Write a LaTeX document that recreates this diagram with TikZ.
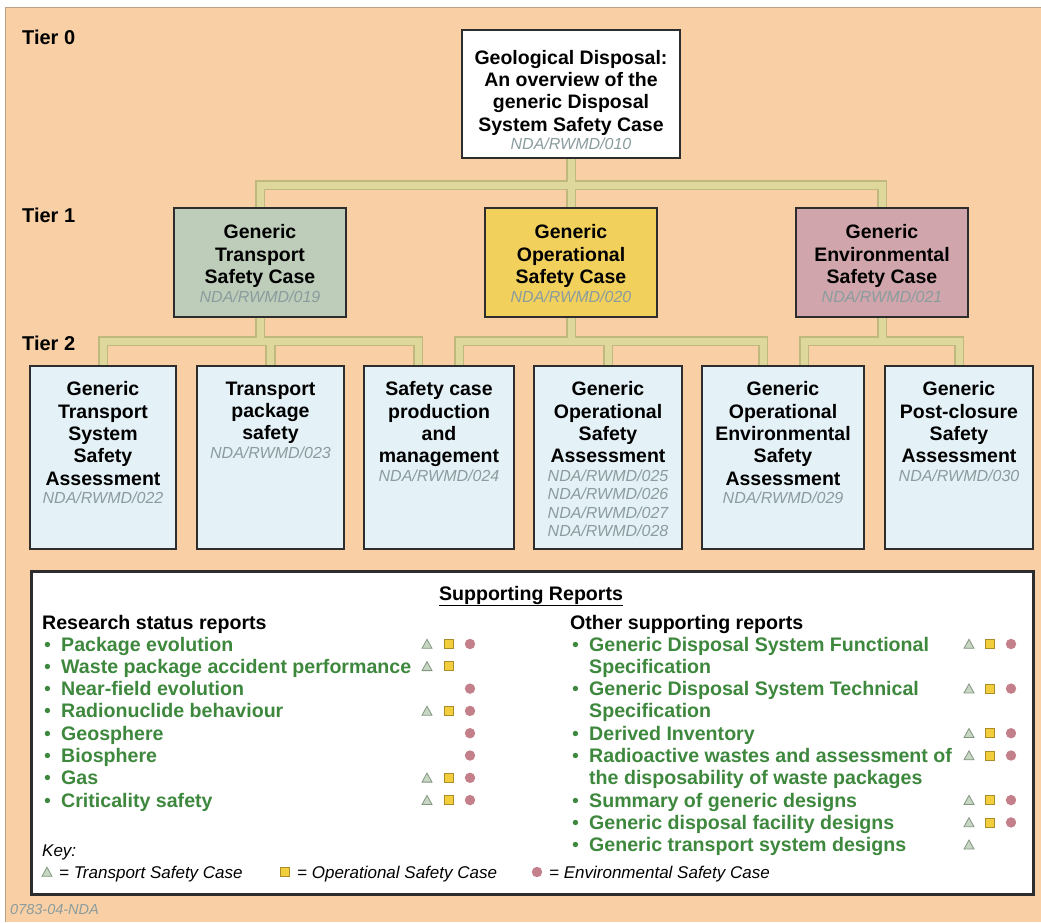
\documentclass[tikz,border=0pt]{standalone}
\usepackage{fontspec}
\setmainfont{Liberation Sans}
\usetikzlibrary{backgrounds}
\setlength\parskip{0pt}
\setlength\parindent{0pt}

\definecolor{page}{RGB}{249,208,166}
\definecolor{pageedge}{RGB}{190,160,130}
\definecolor{busfill}{RGB}{222,216,156}
\definecolor{busedge}{RGB}{192,184,124}
\definecolor{boxline}{RGB}{45,45,45}
\definecolor{transfill}{RGB}{189,205,186}
\definecolor{operfill}{RGB}{242,208,92}
\definecolor{envfill}{RGB}{208,166,172}
\definecolor{tiertwo}{RGB}{228,241,246}
\definecolor{codegray}{RGB}{138,156,158}
\definecolor{itemgreen}{RGB}{62,136,62}
\definecolor{trifill}{RGB}{200,214,196}
\definecolor{triedge}{RGB}{130,150,128}
\definecolor{sqfill}{RGB}{242,206,60}
\definecolor{sqedge}{RGB}{170,140,40}
\definecolor{circfill}{RGB}{196,128,138}

\newcommand\titlefont{\fontsize{19.5}{22.3}\selectfont\bfseries}
\newcommand\codefont{\fontsize{16}{18.5}\selectfont\itshape\mdseries\color{codegray}}
\newcommand\itemfont{\fontsize{19.6}{22.3}\selectfont\bfseries}
\newcommand\keyfont{\fontsize{17}{20}\selectfont\itshape}
% fixed-size box contents: width, height, top gap, text
\newcommand\boxcontent[4]{\parbox[c][#2][t]{#1}{\vspace*{#3}\centering #4\par}}

% all connector routes; drawn twice (edge colour, then fill colour)
\newcommand\busnet[1]{%
  \draw[#1] (t0.south) -- (hub0);
  \draw[#1] (t1a.north) |- (hub0) -| (t1c.north);
  \draw[#1] (hub0) -- (t1b.north);
  \draw[#1] (t1a.south) -- (hub1a);
  \draw[#1] (b1.north) |- (hub1a) -| ([xshift=-21pt]b3.north);
  \draw[#1] (hub1a) -| (b2.north);
  \draw[#1] (t1b.south) -- (hub1b);
  \draw[#1] ([xshift=20pt]b3.north) |- (hub1b) -| ([xshift=-20pt]b5.north);
  \draw[#1] (hub1b) -| (b4.north);
  \draw[#1] (t1c.south) -- (hub1c);
  \draw[#1] ([xshift=21pt]b5.north) |- (hub1c) -| (b6.north);
}

\begin{document}
\begin{tikzpicture}[x=1pt,y=-1pt,
  card/.style={draw=boxline, line width=2pt, inner sep=0pt, anchor=north west},
  lbl/.style={anchor=base west, inner sep=0pt},
  busout/.style={draw=busedge, line width=10.5pt, line join=miter},
  busin/.style={draw=busfill, line width=7pt, line join=miter},
  tsym/.pic={\filldraw[fill=trifill, draw=triedge, line width=0.8pt] (-5,4.3) -- (5,4.3) -- (0,-4.7) -- cycle;},
  osym/.pic={\filldraw[fill=sqfill, draw=sqedge, line width=0.8pt] (-4.5,-4.5) rectangle (4.5,4.5);},
  esym/.pic={\fill[circfill] (0,0) circle (5.2pt);}
]
\useasboundingbox (0,0) rectangle (1041,922);

% page
\begin{scope}[on background layer]
  \fill[white] (0,0) rectangle (1041,922);
  \fill[page] (5,7) rectangle (1041,922);
  \draw[pageedge, line width=1pt] (5,922) -- (5,7) -- (1041,7);
\end{scope}

% tier labels
\node[lbl, font=\fontsize{20}{22}\selectfont\bfseries] (tier0) at (22,44) {Tier 0};
\node[lbl, font=\fontsize{20}{22}\selectfont\bfseries] (tier1) at (22,222) {Tier 1};
\node[lbl, font=\fontsize{20}{22}\selectfont\bfseries] (tier2) at (22,350) {Tier 2};

% tier 0
\node[card, fill=white] (t0) at (461,29) {\boxcontent{218pt}{128pt}{20pt}{%
  {\titlefont Geological Disposal:\\An overview of the\\generic Disposal\\System Safety Case\par}
  {\codefont NDA/RWMD/010\par}}};

% tier 1
\node[card, fill=transfill] (t1a) at (173,207) {\boxcontent{172pt}{109pt}{16.8pt}{%
  {\titlefont Generic\\Transport\\Safety Case\par}{\codefont NDA/RWMD/019\par}}};
\node[card, fill=operfill] (t1b) at (484,207) {\boxcontent{172pt}{109pt}{16.8pt}{%
  {\titlefont Generic\\Operational\\Safety Case\par}{\codefont NDA/RWMD/020\par}}};
\node[card, fill=envfill] (t1c) at (795,207) {\boxcontent{172pt}{109pt}{16.8pt}{%
  {\titlefont Generic\\Environmental\\Safety Case\par}{\codefont NDA/RWMD/021\par}}};

% tier 2
\node[card, fill=tiertwo] (b1) at (29,365) {\boxcontent{146pt}{183pt}{15.8pt}{%
  {\titlefont Generic\\Transport\\System\\Safety\\Assessment\par}{\codefont NDA/RWMD/022\par}}};
\node[card, fill=tiertwo] (b2) at (196,365) {\boxcontent{147pt}{183pt}{15.8pt}{%
  {\titlefont Transport\\package\\safety\par}{\codefont NDA/RWMD/023\par}}};
\node[card, fill=tiertwo] (b3) at (363,365) {\boxcontent{150pt}{183pt}{15.8pt}{%
  {\titlefont Safety case\\production\\and\\management\par}{\codefont NDA/RWMD/024\par}}};
\node[card, fill=tiertwo] (b4) at (533,365) {\boxcontent{148pt}{183pt}{15.8pt}{%
  {\titlefont Generic\\Operational\\Safety\\Assessment\par}{\codefont NDA/RWMD/025\\NDA/RWMD/026\\NDA/RWMD/027\\NDA/RWMD/028\par}}};
\node[card, fill=tiertwo] (b5) at (701,365) {\boxcontent{162pt}{183pt}{15.8pt}{%
  {\titlefont Generic\\Operational\\Environmental\\Safety\\Assessment\par}{\codefont NDA/RWMD/029\par}}};
\node[card, fill=tiertwo] (b6) at (884,365) {\boxcontent{148pt}{183pt}{15.8pt}{%
  {\titlefont Generic\\Post-closure\\Safety\\Assessment\par}{\codefont NDA/RWMD/030\par}}};

% connector junctions
\path (t0.south) ++(0,26) coordinate (hub0);
\path (t1a.south) ++(0,23) coordinate (hub1a);
\path (t1b.south) ++(0,23) coordinate (hub1b);
\path (t1c.south) ++(0,23) coordinate (hub1c);

\begin{scope}[on background layer]
  \busnet{busout}
  \busnet{busin}
\end{scope}

% supporting reports panel
\node[draw=boxline, line width=2.5pt, fill=white, inner sep=0pt, anchor=north west,
      minimum width=1002pt, minimum height=323pt] (sup) at (30,570) {};
\node[anchor=base, inner sep=0pt, font=\itemfont] (suptitle) at (531,600) {\underline{Supporting Reports}};

\node[lbl, font=\itemfont] (rshead) at (42,629) {Research status reports};
\foreach \txt/\ta/\oa/\ea [count=\i] in {
  Package evolution/1/1/1,
  Waste package accident performance/1/1/0,
  Near-field evolution/0/0/1,
  Radionuclide behaviour/1/1/1,
  Geosphere/0/0/1,
  Biosphere/0/0/1,
  Gas/1/1/1,
  Criticality safety/1/1/1}{
  \pgfmathsetmacro\yy{644+(\i-1)*22.3}
  \node[lbl, font=\itemfont, text=itemgreen] (rs-\i) at (44,\yy+7)
    {\makebox[17pt][l]{\mdseries\textbullet}\txt};
  \ifnum\ta=1 \pic at (427,\yy) {tsym}; \fi
  \ifnum\oa=1 \pic at (449,\yy) {osym}; \fi
  \ifnum\ea=1 \pic at (470,\yy) {esym}; \fi
}

\node[lbl, font=\itemfont] (oshead) at (570,629) {Other supporting reports};
\foreach \bul/\txt/\ta/\oa/\ea [count=\i] in {
  1/Generic Disposal System Functional/1/1/1,
  0/Specification/0/0/0,
  1/Generic Disposal System Technical/1/1/1,
  0/Specification/0/0/0,
  1/Derived Inventory/1/1/1,
  1/Radioactive wastes and assessment of/1/1/1,
  0/the disposability of waste packages/0/0/0,
  1/Summary of generic designs/1/1/1,
  1/Generic disposal facility designs/1/1/1,
  1/Generic transport system designs/1/0/0}{
  \pgfmathsetmacro\yy{644+(\i-1)*22.3}
  \node[lbl, font=\itemfont, text=itemgreen] (os-\i) at (572,\yy+7)
    {\makebox[17pt][l]{\ifnum\bul=1 \mdseries\textbullet\fi}\txt};
  \ifnum\ta=1 \pic at (969,\yy) {tsym}; \fi
  \ifnum\oa=1 \pic at (990,\yy) {osym}; \fi
  \ifnum\ea=1 \pic at (1011,\yy) {esym}; \fi
}

% key
\node[lbl, font=\keyfont] (key) at (42,856) {Key:};
\pic at (47,872) {tsym};
\node[lbl, font=\keyfont] (keyt) at (59,878) {= Transport Safety Case};
\pic at (285,872) {osym};
\node[lbl, font=\keyfont] (keyo) at (297,878) {= Operational Safety Case};
\pic at (537,872) {esym};
\node[lbl, font=\keyfont] (keye) at (549,878) {= Environmental Safety Case};

% drawing number
\node[lbl, font=\fontsize{14.5}{16}\selectfont\itshape, text=codegray] (drawno) at (10,914) {0783-04-NDA};
\end{tikzpicture}
\end{document}
